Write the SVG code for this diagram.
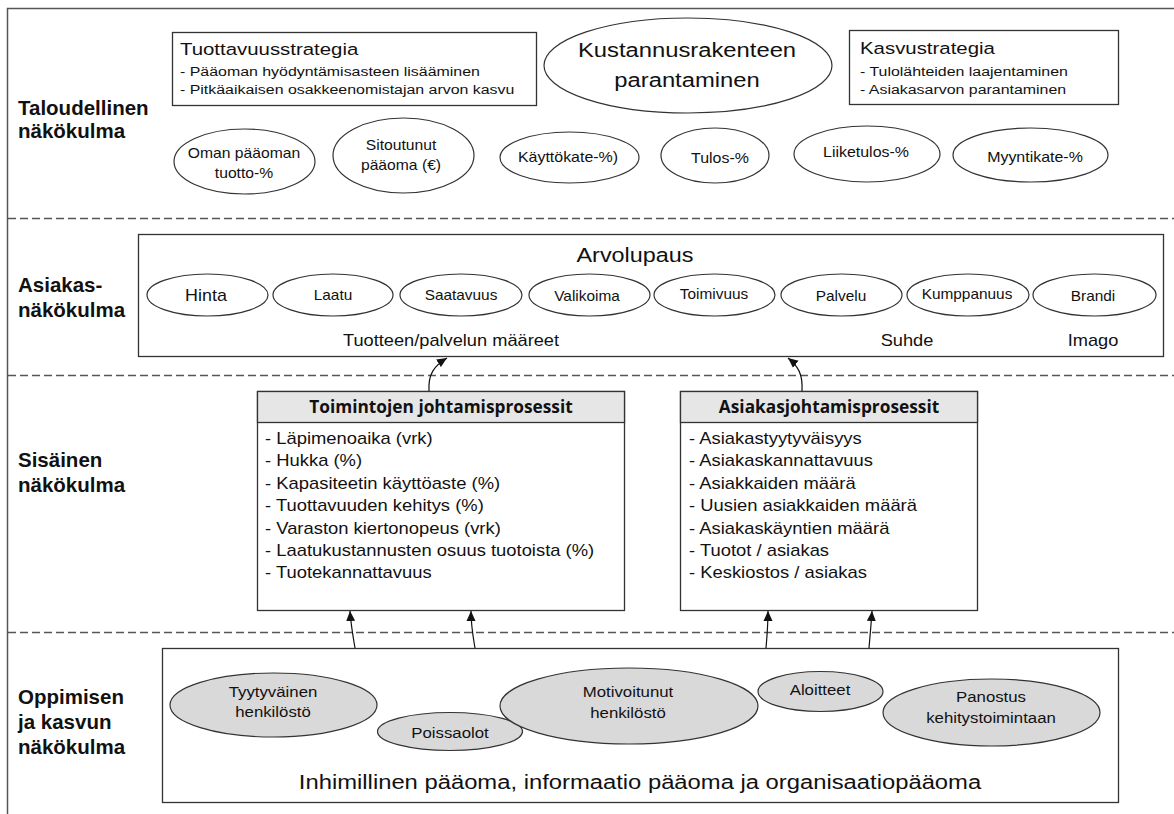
<svg xmlns="http://www.w3.org/2000/svg" width="1174" height="814" viewBox="0 0 1174 814">
<defs>
<style>
.bg{fill:#fff}
.frame{fill:none;stroke:#555;stroke-width:1.5}
.dash{fill:none;stroke:#555;stroke-width:1.3;stroke-dasharray:8 4}
.box{fill:#fff;stroke:#333;stroke-width:1.3}
.hdr{fill:#e6e6e6;stroke:#333;stroke-width:1.3}
.ell{fill:#fff;stroke:#333;stroke-width:1.2}
.gell{fill:#d9d9d9;stroke:#333;stroke-width:1.2}
.lbl{font-family:'Liberation Sans',Arial,sans-serif;font-weight:bold;font-size:20.5px;fill:#111}
.t{font-family:'Liberation Sans',Arial,sans-serif;fill:#111}
.h{font-family:'Open Sans','Liberation Sans',Arial,sans-serif;font-weight:bold;font-size:17.3px;fill:#111}
.c{text-anchor:middle}
.conn{fill:none;stroke:#111;stroke-width:1.2}
</style>
<marker id="ah" viewBox="0 0 10 10" refX="10" refY="5" markerWidth="10" markerHeight="10" markerUnits="userSpaceOnUse" orient="auto">
<path d="M0,0.5 L10,5 L0,9.5 z" fill="#111"/>
</marker>
</defs>
<rect class="bg" x="0" y="0" width="1174" height="814"/>
<g id="frame">
<path class="frame" d="M7.5,830 V8.5 H1180"/>
<line class="dash" x1="8" y1="218.5" x2="1174" y2="218.5"/>
<line class="dash" x1="8" y1="375.5" x2="1174" y2="375.5"/>
<line class="dash" x1="8" y1="632.5" x2="1174" y2="632.5"/>
</g>
<g id="labels">
<text class="lbl" x="18" y="115">Taloudellinen</text>
<text class="lbl" x="18" y="138">näkökulma</text>
<text class="lbl" x="18" y="292">Asiakas-</text>
<text class="lbl" x="18" y="317">näkökulma</text>
<text class="lbl" x="18" y="467">Sisäinen</text>
<text class="lbl" x="18" y="492">näkökulma</text>
<text class="lbl" x="18" y="704">Oppimisen</text>
<text class="lbl" x="18" y="729">ja kasvun</text>
<text class="lbl" x="18" y="754">näkökulma</text>
</g>
<g id="tuottavuusstrategia">
<rect class="box" x="172.5" y="32.5" width="364" height="73"/>
<text class="t" font-size="17" transform="translate(180,55) scale(1.2,1)">Tuottavuusstrategia</text>
<text class="t" font-size="13.5" transform="translate(180,76) scale(1.18,1)">- Pääoman hyödyntämisasteen lisääminen</text>
<text class="t" font-size="13.5" transform="translate(180,94) scale(1.18,1)">- Pitkäaikaisen osakkeenomistajan arvon kasvu</text>
</g>
<g id="kustannusrakenne">
<ellipse class="ell" cx="688" cy="65.5" rx="144" ry="47.5"/>
<text class="t c" font-size="20" transform="translate(687,57) scale(1.19,1)">Kustannusrakenteen</text>
<text class="t c" font-size="20" transform="translate(687,87) scale(1.19,1)">parantaminen</text>
</g>
<g id="kasvustrategia">
<rect class="box" x="849.5" y="30.5" width="269" height="74"/>
<text class="t" font-size="17" transform="translate(860,54) scale(1.2,1)">Kasvustrategia</text>
<text class="t" font-size="13.5" transform="translate(860,76) scale(1.18,1)">- Tulolähteiden laajentaminen</text>
<text class="t" font-size="13.5" transform="translate(860,94) scale(1.18,1)">- Asiakasarvon parantaminen</text>
</g>
<g id="oman-paaoman-tuotto">
<ellipse class="ell" cx="244.5" cy="161.5" rx="70.5" ry="32.5"/>
<text class="t c" font-size="14" transform="translate(244,158) scale(1.12,1)">Oman pääoman</text>
<text class="t c" font-size="14" transform="translate(244,178) scale(1.12,1)">tuotto-%</text>
</g>
<g id="sitoutunut-paaoma">
<ellipse class="ell" cx="403.5" cy="155.5" rx="70.5" ry="37.5"/>
<text class="t c" font-size="14" transform="translate(401,150) scale(1.12,1)">Sitoutunut</text>
<text class="t c" font-size="14" transform="translate(401,170) scale(1.12,1)">pääoma (€)</text>
</g>
<g id="kayttokate">
<ellipse class="ell" cx="569.5" cy="157.5" rx="69.5" ry="25.5"/>
<text class="t c" font-size="14" transform="translate(568,162) scale(1.14,1)">Käyttökate-%)</text>
</g>
<g id="tulos">
<ellipse class="ell" cx="715" cy="155.5" rx="54" ry="27.5"/>
<text class="t c" font-size="14" transform="translate(720,163) scale(1.14,1)">Tulos-%</text>
</g>
<g id="liiketulos">
<ellipse class="ell" cx="867" cy="154" rx="73" ry="28"/>
<text class="t c" font-size="14" transform="translate(866,157) scale(1.14,1)">Liiketulos-%</text>
</g>
<g id="myyntikate">
<ellipse class="ell" cx="1030.5" cy="155" rx="77.5" ry="27"/>
<text class="t c" font-size="14" transform="translate(1035,162) scale(1.14,1)">Myyntikate-%</text>
</g>
<g id="arvolupaus">
<rect class="box" x="138.5" y="234.5" width="1025" height="122"/>
<text class="t c" font-size="19.5" transform="translate(635,262) scale(1.2,1)">Arvolupaus</text>
<text class="t c" font-size="16" transform="translate(451,346) scale(1.14,1)">Tuotteen/palvelun määreet</text>
<text class="t c" font-size="16" transform="translate(907,346) scale(1.14,1)">Suhde</text>
<text class="t c" font-size="16" transform="translate(1093,346) scale(1.14,1)">Imago</text>
</g>
<g id="hinta"><ellipse class="ell" cx="207.5" cy="295" rx="60.5" ry="21"/><text class="t c" font-size="16" transform="translate(206,301) scale(1.12,1)">Hinta</text></g>
<g id="laatu"><ellipse class="ell" cx="333" cy="295" rx="60" ry="21"/><text class="t c" font-size="14" transform="translate(333,300) scale(1.1,1)">Laatu</text></g>
<g id="saatavuus"><ellipse class="ell" cx="461" cy="295" rx="61" ry="21"/><text class="t c" font-size="14" transform="translate(461,300) scale(1.1,1)">Saatavuus</text></g>
<g id="valikoima"><ellipse class="ell" cx="589.5" cy="295" rx="60.5" ry="21"/><text class="t c" font-size="14" transform="translate(587,301) scale(1.1,1)">Valikoima</text></g>
<g id="toimivuus"><ellipse class="ell" cx="714.5" cy="295" rx="60.5" ry="21"/><text class="t c" font-size="14" transform="translate(714,299) scale(1.1,1)">Toimivuus</text></g>
<g id="palvelu"><ellipse class="ell" cx="841.5" cy="295" rx="60.5" ry="21"/><text class="t c" font-size="14" transform="translate(841,301) scale(1.1,1)">Palvelu</text></g>
<g id="kumppanuus"><ellipse class="ell" cx="968" cy="295" rx="61" ry="21"/><text class="t c" font-size="14" transform="translate(967,299) scale(1.1,1)">Kumppanuus</text></g>
<g id="brandi"><ellipse class="ell" cx="1094.5" cy="295" rx="61.5" ry="21"/><text class="t c" font-size="14" transform="translate(1093,301) scale(1.1,1)">Brandi</text></g>
<g id="toimintojen-johtamisprosessit">
<rect class="box" x="257.5" y="391.5" width="367" height="219"/>
<rect class="hdr" x="257.5" y="391.5" width="367" height="31"/>
<text class="h c" x="441" y="413">Toimintojen johtamisprosessit</text>
<g class="t" font-size="16">
<text transform="translate(265,444) scale(1.15,1)">- Läpimenoaika (vrk)</text>
<text transform="translate(265,466.4) scale(1.15,1)">- Hukka (%)</text>
<text transform="translate(265,488.8) scale(1.15,1)">- Kapasiteetin käyttöaste (%)</text>
<text transform="translate(265,511.2) scale(1.15,1)">- Tuottavuuden kehitys (%)</text>
<text transform="translate(265,533.6) scale(1.15,1)">- Varaston kiertonopeus (vrk)</text>
<text transform="translate(265,556) scale(1.15,1)">- Laatukustannusten osuus tuotoista (%)</text>
<text transform="translate(265,578.4) scale(1.15,1)">- Tuotekannattavuus</text>
</g>
</g>
<g id="asiakasjohtamisprosessit">
<rect class="box" x="680.5" y="391.5" width="297" height="219"/>
<rect class="hdr" x="680.5" y="391.5" width="297" height="31"/>
<text class="h c" x="829" y="413">Asiakasjohtamisprosessit</text>
<g class="t" font-size="16">
<text transform="translate(689,444) scale(1.15,1)">- Asiakastyytyväisyys</text>
<text transform="translate(689,466.4) scale(1.15,1)">- Asiakaskannattavuus</text>
<text transform="translate(689,488.8) scale(1.15,1)">- Asiakkaiden määrä</text>
<text transform="translate(689,511.2) scale(1.15,1)">- Uusien asiakkaiden määrä</text>
<text transform="translate(689,533.6) scale(1.15,1)">- Asiakaskäyntien määrä</text>
<text transform="translate(689,556) scale(1.15,1)">- Tuotot / asiakas</text>
<text transform="translate(689,578.4) scale(1.15,1)">- Keskiostos / asiakas</text>
</g>
</g>
<g id="oppiminen">
<rect class="box" x="162.5" y="648.5" width="956" height="154"/>
<text class="t c" font-size="20" transform="translate(640,789) scale(1.19,1)">Inhimillinen pääoma, informaatio pääoma ja organisaatiopääoma</text>
</g>
<g id="tyytyvainen-henkilosto"><ellipse class="gell" cx="273.5" cy="705" rx="103.5" ry="32"/>
<text class="t c" font-size="15" transform="translate(273,697) scale(1.12,1)">Tyytyväinen</text>
<text class="t c" font-size="15" transform="translate(273,717) scale(1.12,1)">henkilöstö</text></g>
<g id="poissaolot"><ellipse class="gell" cx="450" cy="731.5" rx="72.5" ry="19"/>
<text class="t c" font-size="15" transform="translate(450,738) scale(1.12,1)">Poissaolot</text></g>
<g id="motivoitunut-henkilosto"><ellipse class="gell" cx="629" cy="706" rx="129" ry="38"/>
<text class="t c" font-size="15" transform="translate(628,697) scale(1.12,1)">Motivoitunut</text>
<text class="t c" font-size="15" transform="translate(628,718) scale(1.12,1)">henkilöstö</text></g>
<g id="aloitteet"><ellipse class="gell" cx="820.5" cy="691.5" rx="62.5" ry="20"/>
<text class="t c" font-size="15" transform="translate(820,695) scale(1.12,1)">Aloitteet</text></g>
<g id="panostus-kehitystoimintaan"><ellipse class="gell" cx="991.5" cy="712.5" rx="108.5" ry="33.5"/>
<text class="t c" font-size="15" transform="translate(991,702) scale(1.12,1)">Panostus</text>
<text class="t c" font-size="15" transform="translate(991,723) scale(1.12,1)">kehitystoimintaan</text></g>
<g id="connectors">
<path class="conn" marker-end="url(#ah)" d="M429,391 C428,374 434,366 447,358"/>
<path class="conn" marker-end="url(#ah)" d="M802,391 C803,374 798,366 788,358"/>
<path class="conn" marker-end="url(#ah)" d="M355,648 C353,636 351,626 350,611"/>
<path class="conn" marker-end="url(#ah)" d="M475,648 C473,636 471,626 471,611"/>
<path class="conn" marker-end="url(#ah)" d="M766,648 C767,636 768,626 768,611"/>
<path class="conn" marker-end="url(#ah)" d="M869,648 C870,636 871,626 872,611"/>
</g>
</svg>
